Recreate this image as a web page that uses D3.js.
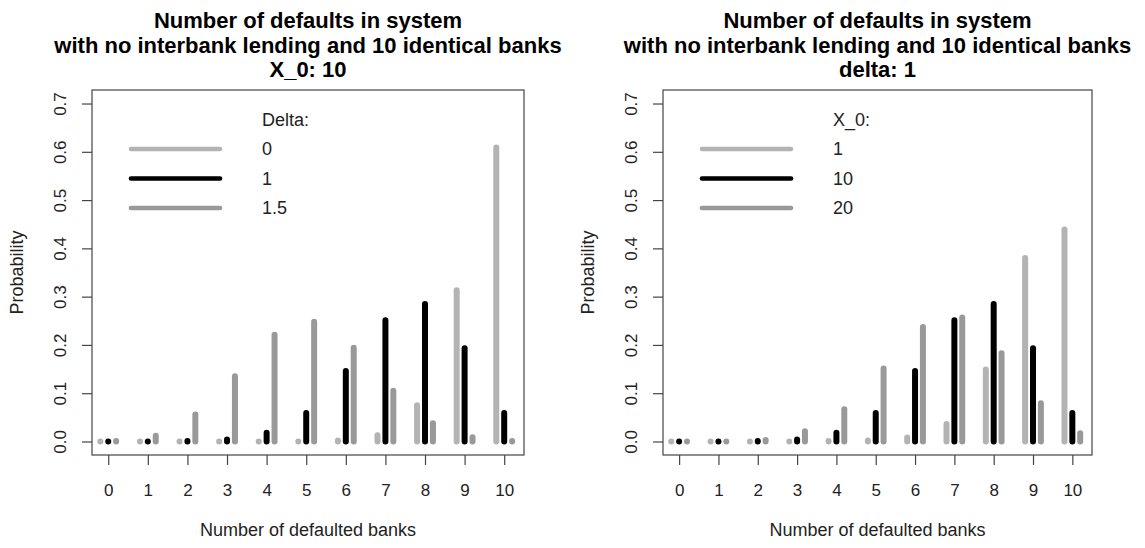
<!DOCTYPE html>
<html><head><meta charset="utf-8">
<script src="https://cdn.jsdelivr.net/npm/d3@7"></script>
<style>
body{margin:0;background:#fff;}
svg{display:block;font-family:"Liberation Sans",Arial,Helvetica,sans-serif;}
</style>
</head><body>
<svg id="c" width="1145" height="548"></svg>
<script>
// ---- data ----
const banks = [0,1,2,3,4,5,6,7,8,9,10];
const yTicks = [0,0.1,0.2,0.3,0.4,0.5,0.6,0.7];
const seriesColors = ["#b3b3b3","#000000","#999999"];
const seriesOffsets = [-0.2, 0, 0.2];

const leftTitle = ["Number of defaults in system","with no interbank lending and 10 identical banks","X_0: 10"];
const leftLegendTitle = "Delta:";
const leftLegendLabels = ["0","1","1.5"];
const delta0   = [0,0,0,0,0,0,0.002,0.013,0.075,0.313,0.609];
const delta1   = [0,0,0.001,0.004,0.018,0.059,0.146,0.251,0.285,0.193,0.059];
const delta1_5 = [0.001,0.012,0.056,0.135,0.221,0.248,0.194,0.105,0.038,0.009,0.001];

const rightTitle = ["Number of defaults in system","with no interbank lending and 10 identical banks","delta: 1"];
const rightLegendTitle = "X_0:";
const rightLegendLabels = ["1","10","20"];
const x0_1  = [0,0,0,0,0.001,0.002,0.008,0.036,0.149,0.38,0.439];
const x0_10 = [0,0,0.001,0.004,0.018,0.059,0.146,0.251,0.285,0.193,0.059];
const x0_20 = [0,0,0.003,0.021,0.067,0.151,0.237,0.257,0.183,0.079,0.017];

const xLabel = "Number of defaulted banks";
const yLabel = "Probability";

// ---- layout ----
const svg = d3.select("#c");
const plotTop = 90, plotBottom = 455;
const panels = [
  {left:92, right:524, title:leftTitle, legTitle:leftLegendTitle, legLabels:leftLegendLabels, series:[delta0,delta1,delta1_5]},
  {left:663, right:1092, title:rightTitle, legTitle:rightLegendTitle, legLabels:rightLegendLabels, series:[x0_1,x0_10,x0_20]}
];
const y = d3.scaleLinear().domain([-0.028,0.728]).range([plotBottom, plotTop]);

panels.forEach(p => {
  const g = svg.append("g");
  const x = d3.scaleLinear().domain([-0.41,10.5]).range([p.left, p.right]);
  const cx = (p.left + p.right)/2;

  // title
  p.title.forEach((t,i) => {
    g.append("text").attr("x", cx).attr("y", 28 + i*24.5)
      .attr("text-anchor","middle").attr("font-weight","bold")
      .attr("font-size", 22).attr("fill","#000").text(t);
  });

  // bars
  p.series.forEach((vals, si) => {
    g.selectAll(null).data(banks).enter().append("line")
      .attr("x1", d => x(d + seriesOffsets[si])).attr("x2", d => x(d + seriesOffsets[si]))
      .attr("y1", y(0)).attr("y2", d => y(vals[d]))
      .attr("stroke", seriesColors[si]).attr("stroke-width", 6)
      .attr("stroke-linecap","round");
  });

  // box
  g.append("rect").attr("x", p.left).attr("y", plotTop)
    .attr("width", p.right - p.left).attr("height", plotBottom - plotTop)
    .attr("fill","none").attr("stroke","#444").attr("stroke-width",1.2);

  // x axis
  const xa = g.append("g").attr("transform", `translate(0,${plotBottom})`)
    .call(d3.axisBottom(x).tickValues(banks).tickFormat(d3.format("d")).tickSize(10).tickPadding(19));
  xa.select(".domain").remove();
  xa.selectAll(".tick line").attr("stroke","#444").attr("stroke-width",1.2);
  xa.selectAll(".tick text").attr("font-size",17).attr("fill","#222")
    .attr("font-family","'Liberation Sans',Arial,sans-serif");

  // y axis
  const ya = g.append("g").attr("transform", `translate(${p.left},0)`)
    .call(d3.axisLeft(y).tickValues(yTicks).tickFormat(d3.format(".1f")).tickSize(10));
  ya.select(".domain").remove();
  ya.selectAll(".tick line").attr("stroke","#444").attr("stroke-width",1.2);
  ya.selectAll(".tick text").remove();
  ya.selectAll(".tick").append("text")
    .attr("transform","translate(-32,0) rotate(-90)")
    .attr("text-anchor","middle").attr("dy","0.35em")
    .attr("font-size",17).attr("fill","#222")
    .attr("font-family","'Liberation Sans',Arial,sans-serif")
    .text(d => d3.format(".1f")(d));

  // axis labels
  g.append("text").attr("x", cx).attr("y", 536)
    .attr("text-anchor","middle").attr("font-size",18).attr("fill","#222").text(xLabel);
  g.append("text").attr("transform", `translate(${p.left-75},${(plotTop+plotBottom)/2}) rotate(-90)`)
    .attr("text-anchor","middle").attr("dy","0.35em")
    .attr("font-size",18).attr("fill","#222").text(yLabel);

  // legend
  const legY = [149, 178.5, 208];
  g.append("text").attr("x", p.left + 170).attr("y", 120).attr("dy","0.35em")
    .attr("font-size",18).attr("fill","#222").text(p.legTitle);
  p.legLabels.forEach((lab, i) => {
    g.append("line").attr("x1", p.left + 39).attr("x2", p.left + 128)
      .attr("y1", legY[i]).attr("y2", legY[i])
      .attr("stroke", seriesColors[i]).attr("stroke-width", 4.6).attr("stroke-linecap","round");
    g.append("text").attr("x", p.left + 170).attr("y", legY[i]).attr("dy","0.35em")
      .attr("font-size",18).attr("fill","#222").text(lab);
  });
});
</script>
</body></html>
